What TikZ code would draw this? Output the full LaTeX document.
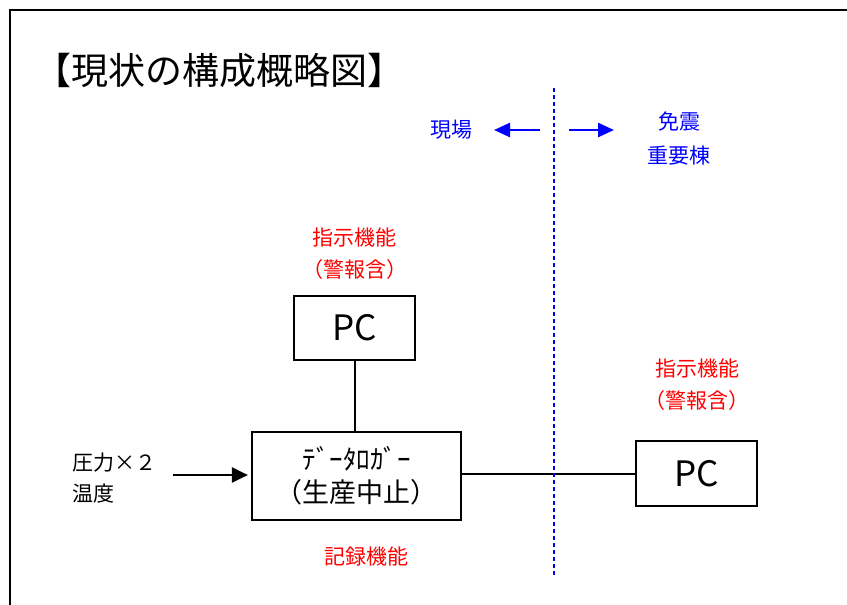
\documentclass[tikz,border=0pt]{standalone}
\usepackage{fontspec}
\setmainfont{Noto Sans CJK JP}
\usetikzlibrary{arrows.meta}
\definecolor{alarmred}{RGB}{255,0,0}
\definecolor{zoneblue}{RGB}{0,0,255}
\tikzset{
  unitbox/.style={draw=black,line width=2.2pt,inner sep=0pt,align=center},
  redlabel/.style={text=alarmred,font=\fontsize{21}{25}\selectfont,align=center},
  bluelabel/.style={text=zoneblue,font=\fontsize{21}{25}\selectfont,align=center},
}
\begin{document}
\begin{tikzpicture}[x=1pt,y=-1pt]
          \useasboundingbox (0,0) rectangle (847,605);
          \draw[line width=2pt] (10,605) -- (10,10) -- (847,10);
          \node[anchor=west,font=\fontsize{37}{42}\selectfont] (title) at (31,70) {【現状の構成概略図】};
          % boxes
          \node[unitbox,minimum width=121pt,minimum height=64pt,font=\fontsize{35}{40}\selectfont] (pcsite) at (354.5,328) {PC};
          \node[unitbox,minimum width=209pt,minimum height=88pt,font=\fontsize{27}{33}\selectfont] (logger) at (356.5,476) {ﾃﾞｰﾀﾛｶﾞｰ\\（生産中止）};
          \node[unitbox,minimum width=121pt,minimum height=65pt,font=\fontsize{35}{40}\selectfont] (pcbldg) at (696.5,473.5) {PC};
          % labels
          \node[redlabel] (funcsite) at (354.5,254) {指示機能\\[7pt]（警報含）};
          \node[redlabel] (funcbldg) at (697,385) {指示機能\\[7pt]（警報含）};
          \node[redlabel] (record) at (366,557) {記録機能};
          \node[anchor=west,font=\fontsize{21}{25}\selectfont,align=left] (sensor) at (69,478) {圧力×２\\[6pt]温度};
          \node[bluelabel] (site) at (451,130) {現場};
          \node[bluelabel] (bldg) at (679,139) {免震\\[9pt]重要棟};
          % connectors
          \coordinate (sensorend) at (173,475);
          \coordinate (divtop) at (554,88);
          \coordinate (divbot) at (554,577);
          \coordinate (sitearr) at (540,130);
          \coordinate (bldgarr) at (569,130);
          \draw[line width=2pt] (pcsite.south) -- (pcsite.south |- logger.north);
          \draw[line width=2pt] (logger.east |- pcbldg.west) -- (pcbldg.west);
          \draw[line width=2.3pt,-{Triangle[length=16pt,width=15pt]},shorten >=3pt] (sensorend) -- (logger.west |- sensorend);
          \draw[zoneblue,line width=1.6pt,dash pattern=on 4pt off 3pt] (divtop) -- (divbot);
          \draw[zoneblue,line width=2.5pt,-{Triangle[length=16pt,width=14pt]}] (sitearr) -- ++(-46,0) coordinate (sitetip);
          \draw[zoneblue,line width=2.5pt,-{Triangle[length=16pt,width=14pt]}] (bldgarr) -- ++(45,0) coordinate (bldgtip);
        \end{tikzpicture}
\end{document}
